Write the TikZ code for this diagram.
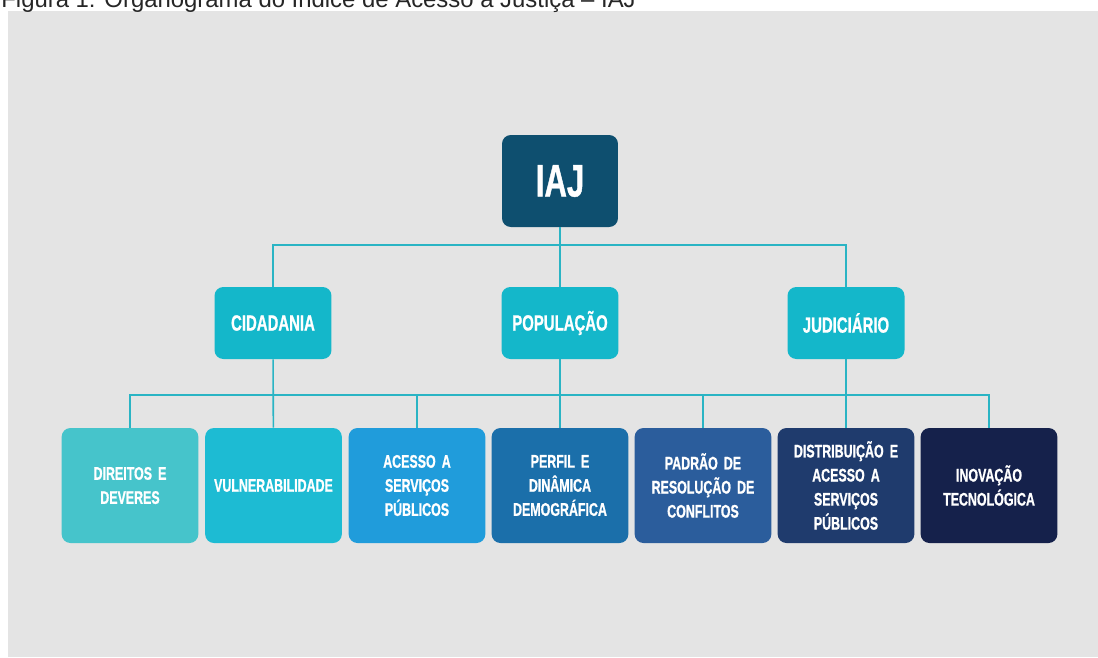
\documentclass[tikz,border=0pt]{standalone}
\usepackage{fontspec}
\setmainfont{Liberation Sans}
\newfontfamily\orgfont[FakeStretch=0.68, FakeBold=0.9, WordSpace=0.6]{Liberation Sans}
\definecolor{bggray}{HTML}{E4E4E4}
\definecolor{iajblue}{HTML}{0E4F6F}
\definecolor{dimcyan}{HTML}{14B7CA}
\definecolor{linecyan}{HTML}{2AB4C4}
\definecolor{indA}{HTML}{46C4CB}
\definecolor{indB}{HTML}{1DBBD3}
\definecolor{indC}{HTML}{209CDB}
\definecolor{indD}{HTML}{1B6FAA}
\definecolor{indE}{HTML}{2B5D9C}
\definecolor{indF}{HTML}{1F3B6D}
\definecolor{indG}{HTML}{15214B}
\usetikzlibrary{positioning}

\begin{document}
\begin{tikzpicture}[x=0.02cm, y=-0.02cm,
  top/.style={fill=iajblue, rounded corners=5pt, minimum width=2.32cm, minimum height=1.84cm, text=white, font=\orgfont\bfseries\fontsize{26}{30}\selectfont},
  dim/.style={fill=dimcyan, rounded corners=5pt, minimum width=2.34cm, minimum height=1.44cm, text=white, font=\orgfont\bfseries\fontsize{12.5}{15}\selectfont},
  ind/.style={rounded corners=5pt, minimum width=2.72cm, minimum height=2.3cm, text width=2.5cm, align=center, text=white, font=\orgfont\bfseries\fontsize{10.4}{13.7}\selectfont},
  conn/.style={draw=linecyan, line width=0.9pt}
]
  \fill[bggray] (8,11) rectangle (1098,657);
  \useasboundingbox (0,0) rectangle (1098,657);
  \node[anchor=base west, inner sep=0pt, text=black!85, font=\fontsize{13.6}{16}\selectfont] (caption) at (1,7) {Figura 1: Organograma do Índice de Acesso à Justiça – IAJ};

  \node[top] (iaj) at (560, 181) {IAJ};
  \node[dim] (cid) at (273, 323) {CIDADANIA};
  \node[dim] (pop) at (560, 323) {POPULAÇÃO};
  \node[dim] (jud) at (846, 323) {JUDICIÁRIO};

  \node[ind, fill=indA] (dir) at (130, 485.5) {DIREITOS E\\DEVERES};
  \node[ind, fill=indB] (vul) at (273.5, 485.5) {VULNERABILIDADE};
  \node[ind, fill=indC] (ace) at (417, 485.5) {ACESSO A\\SERVIÇOS\\PÚBLICOS};
  \node[ind, fill=indD] (per) at (560, 485.5) {PERFIL E\\DINÂMICA\\DEMOGRÁFICA};
  \node[ind, fill=indE] (pad) at (703, 485.5) {PADRÃO DE\\RESOLUÇÃO DE\\CONFLITOS};
  \node[ind, fill=indF] (dis) at (846, 485.5) {DISTRIBUIÇÃO E\\ACESSO A\\SERVIÇOS\\PÚBLICOS};
  \node[ind, fill=indG] (ino) at (989, 485.5) {INOVAÇÃO\\TECNOLÓGICA};

  \coordinate (busA) at (560, 245);
  \coordinate (busB) at (560, 395);

  \draw[conn] (iaj) -- (pop);
  \draw[conn] (cid.north) |- (busA) -| (jud.north);
  \draw[conn] (cid) -- (vul);
  \draw[conn] (pop) -- (per);
  \draw[conn] (jud) -- (dis);
  \draw[conn] (dir.north) |- (busB) -| (ino.north);
  \draw[conn] (ace.north) -- (ace.north |- busB);
  \draw[conn] (pad.north) -- (pad.north |- busB);
\end{tikzpicture}
\end{document}
